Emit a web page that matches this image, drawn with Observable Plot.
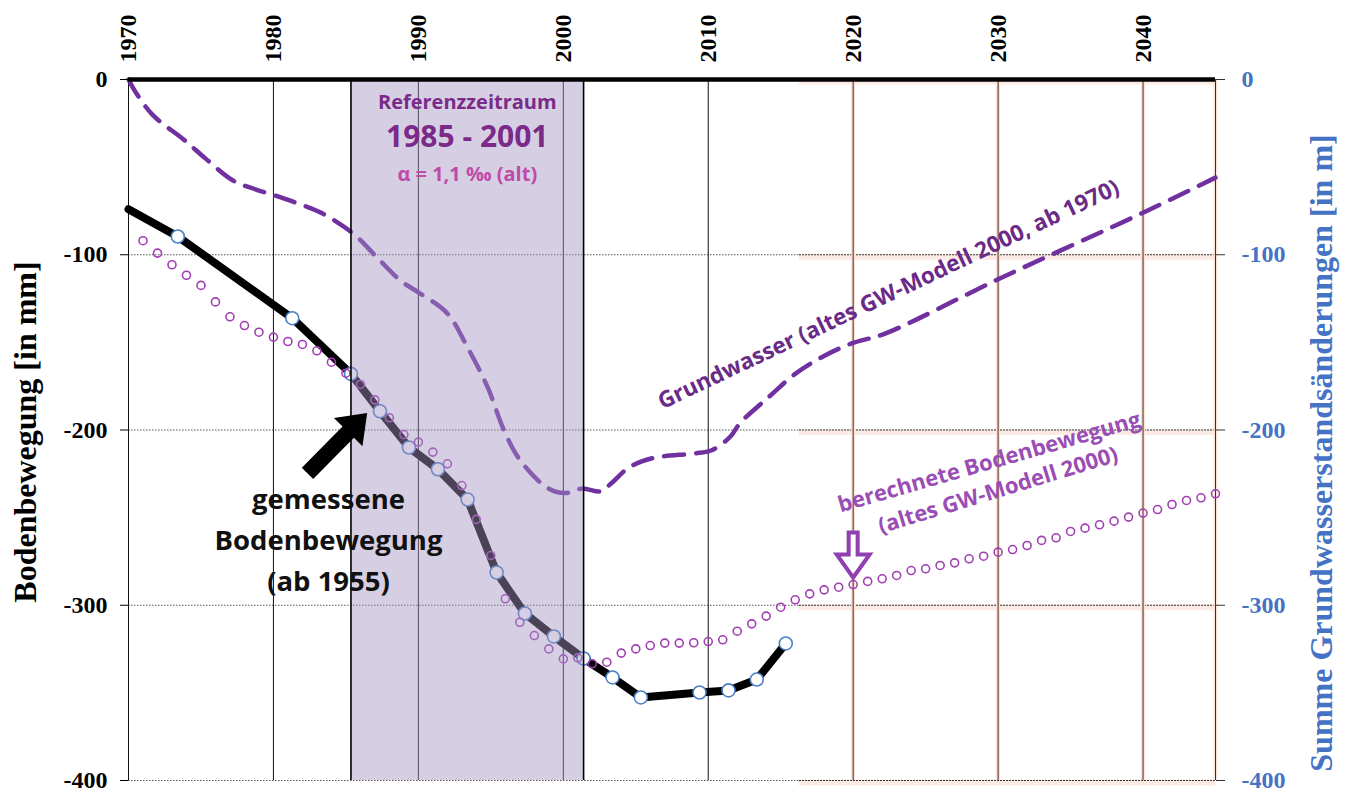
<!DOCTYPE html>
<html>
<head>
<meta charset="utf-8">
<script src="https://cdn.jsdelivr.net/npm/d3@7"></script>
<script src="https://cdn.jsdelivr.net/npm/@observablehq/plot@0.6"></script>
<style>
  body { margin: 0; background: #fff; }
  #chart { width: 1350px; height: 792px; }
</style>
</head>
<body>
<div id="chart"></div>
<script>
// Gemessene Bodenbewegung in mm (Messkampagnen; erster Wert = Linienverlauf am Rand 1970)
const measYears  = [1970, 1973.4, 1981.3, 1985.35, 1987.35, 1989.35, 1991.35, 1993.4, 1995.4, 1997.35, 1999.35, 2001.4, 2003.4, 2005.35, 2009.4, 2011.4, 2013.35, 2015.35];
const measValues = [-74, -89.6, -136.2, -168, -189.3, -210, -222.4, -239.7, -281.3, -304.7, -317.8, -330.4, -341.2, -352.6, -349.8, -348.6, -342.4, -321.8];

// Berechnete Bodenbewegung in mm (altes GW-Modell 2000), jährlich 1971–2045
const calcYears = d3.range(1971, 2046);
const calcValues = [
  -92.0, -99.1, -105.7, -111.7, -117.5, -126.9, -135.4, -140.4, -144.2, -147.0,
  -149.5, -151.2, -154.8, -161.3, -167.6, -174.0, -182.8, -193.0, -202.6, -206.9,
  -212.6, -219.3, -231.7, -251.0, -271.6, -296.3, -309.7, -317.3, -324.9, -330.6,
  -330.0, -333.4, -332.5, -327.3, -324.9, -323.0, -321.6, -321.6, -321.4, -320.7,
  -319.7, -314.8, -310.6, -306.2, -301.1, -296.9, -293.5, -291.2, -289.7, -288.2,
  -286.4, -284.9, -283.0, -280.2, -279.2, -277.3, -275.8, -273.5, -272.0, -269.7,
  -268.2, -265.9, -263.0, -261.5, -257.9, -256.0, -254.1, -252.0, -249.7, -247.4,
  -245.4, -242.5, -240.2, -238.7, -236.4
];

// Summe Grundwasserstandsänderungen in m (altes GW-Modell 2000, ab 1970)
const gwYears  = [1970, 1970.55, 1971.7, 1973.8, 1975.3, 1977.2, 1978.8, 1980.1, 1981.7, 1983.25, 1985.5, 1987.2, 1988.8, 1990.1, 1992.0, 1993.4, 1994.8, 1995.9, 1997.0, 1998.9, 2000.1, 2001.3, 2002.6, 2003.3, 2004.6, 2006.2, 2009.0, 2010.2, 2011.5, 2012.2, 2014.2, 2016.0, 2017.8, 2019.9, 2022.2, 2030, 2040, 2045];
const gwValues = [0, -8, -20.5, -34.2, -45, -57.6, -62.8, -66.2, -70.8, -75.9, -87.9, -102, -115, -122, -133.5, -153, -176, -200, -217, -233, -236, -233.4, -235, -230.5, -221, -216, -213.4, -211.7, -204, -196, -181, -168, -158.6, -150.6, -145, -114, -76, -56];

// Achsen
const yTicks = [0, -100, -200, -300, -400];
const decades = [1970, 1980, 1990, 2000, 2010, 2020, 2030, 2040];
const gridPast = [1980, 1990, 2000, 2010];
const gridFuture = [2020, 2030, 2040, 2045];

// Referenzzeitraum: von der Kampagne 1985 bis zur Kampagne 2001
const refStart = measYears[3];
const refEnd = measYears[11];
const refLabel = `${Math.floor(refStart)} - ${Math.floor(refEnd)}`;

const meas = measYears.map((x, i) => ({x, y: measValues[i]}));
const calc = calcYears.map((x, i) => ({x, y: calcValues[i]}));
const gw = gwYears.map((x, i) => ({x, y: gwValues[i]}));

const serif = "'Liberation Serif', 'Times New Roman', serif";
const sans = "'Open Sans', 'Noto Sans', sans-serif";
const splitYear = 2016.3; // Beginn der Prognosedarstellung

// Blockpfeil für Plot.vector (zeigt in Richtung -y)
function blockArrow(shaft, head, headLen) {
  return {
    draw(context, l) {
      const b = l - headLen;
      context.moveTo(-shaft, 0);
      context.lineTo(-shaft, -b);
      context.lineTo(-head, -b);
      context.lineTo(0, -l);
      context.lineTo(head, -b);
      context.lineTo(shaft, -b);
      context.lineTo(shaft, 0);
      context.closePath();
    }
  };
}

const yFmt = d => (d < 0 ? "-" + Math.abs(d) : String(d));

const chart = Plot.plot({
  width: 1350,
  height: 792,
  marginLeft: 128,
  marginRight: 135,
  marginTop: 79,
  marginBottom: 12,
  x: {domain: [1970, 2045], axis: null},
  y: {domain: [-400, 0], label: null},
  style: {fontFamily: sans, background: "#fff", overflow: "visible"},
  marks: [
    // horizontale Gitterlinien
    Plot.ruleY(yTicks, {x1: 1970, x2: splitYear, stroke: "#555", strokeDasharray: "1.5,1.5"}),
    Plot.ruleY(yTicks, {x1: splitYear, x2: 2045, stroke: "#fcebe4", strokeWidth: 6, dy: 2}),
    Plot.ruleY(yTicks, {x1: splitYear, x2: 2045, stroke: "#333", strokeDasharray: "2,1"}),
    // vertikale Gitterlinien
    Plot.ruleX(gridFuture, {stroke: "#fbe3d8", strokeWidth: 4}),
    Plot.ruleX(gridFuture, {stroke: "#4a2a22", strokeWidth: 1}),
    Plot.ruleX([1970, ...gridPast], {stroke: "#111", strokeWidth: 1}),

    // gemessene Bodenbewegung
    Plot.line(meas, {x: "x", y: "y", stroke: "#000", strokeWidth: 8, strokeLinejoin: "round", strokeLinecap: "round"}),
    Plot.dot(meas, {filter: (d, i) => i > 0, x: "x", y: "y", r: 6.5, fill: "#fff", stroke: "#4a7fc6", strokeWidth: 1.6}),

    // berechnete Bodenbewegung
    Plot.dot(calc, {x: "x", y: "y", r: 4, fill: "none", stroke: "#a13fb3", strokeWidth: 1.6}),

    // Grundwasser
    Plot.line(gw, {x: "x", y: "y", stroke: "#7030a0", strokeWidth: 4.5, strokeDasharray: "20,12", curve: "catmull-rom"}),

    // Referenzzeitraum
    Plot.rect([{x1: refStart, x2: refEnd}], {x1: "x1", x2: "x2", y1: -400, y2: 0, fill: "#a594c0", fillOpacity: 0.45}),
    Plot.ruleX([refStart, refEnd], {stroke: "#000", strokeWidth: 1.6}),

    // Nulllinie
    Plot.ruleY([0], {stroke: "#000", strokeWidth: 4.5}),

    // Achsen
    Plot.axisY({anchor: "left", ticks: yTicks, tickFormat: yFmt, tickSize: 8, tickPadding: 13, label: null,
      color: "#000", fontSize: 24, fontWeight: "bold", fontFamily: serif}),
    Plot.axisY({anchor: "right", ticks: yTicks, tickFormat: yFmt, tickSize: 9, tickPadding: 17, label: null,
      stroke: "#333", fill: "#4472c4", fontSize: 24, fontWeight: "bold", fontFamily: serif}),
    Plot.text(decades, {x: d => d, y: 0, dy: -17, text: d => String(d), rotate: -90, textAnchor: "start", lineAnchor: "middle",
      fontSize: 24, fontWeight: "bold", fontFamily: serif, fill: "#000"}),
    Plot.text(["Bodenbewegung [in mm]"], {text: d => d, frameAnchor: "left", dx: -103, dy: 2, rotate: -90,
      textAnchor: "middle", lineAnchor: "middle",
      fontSize: 32, fontWeight: "bold", fontFamily: serif, fill: "#000"}),
    Plot.text(["Summe Grundwasserstandsänderungen [in m]"], {text: d => d, frameAnchor: "right", dx: 106, dy: 23, rotate: -90,
      textAnchor: "middle", lineAnchor: "middle",
      fontSize: 32, fontWeight: "bold", fontFamily: serif, fill: "#4472c4"}),

    // Beschriftung Referenzzeitraum
    Plot.text(["Referenzzeitraum"], {text: d => d, x: (refStart + refEnd) / 2, y: -13, fontSize: 20, fontWeight: "bold", fill: "#7b2a8a"}),
    Plot.text([refLabel], {text: d => d, x: (refStart + refEnd) / 2, y: -33, fontSize: 30, fontWeight: "bold", fill: "#7b2a8a"}),
    Plot.text(["α = 1,1 ‰ (alt)"], {text: d => d, x: (refStart + refEnd) / 2, y: -54, fontSize: 20, fontWeight: "bold", fill: "#c04aa8"}),

    // Beschriftung gemessene Bodenbewegung
    Plot.text(["gemessene\nBodenbewegung\n(ab 1955)"], {text: d => d, x: 1983.8, y: -261, lineHeight: 1.5,
      fontSize: 27.5, fontWeight: "bold", fill: "#111"}),
    Plot.vector([{x: 1982.35, y: -224.8}], {x: "x", y: "y", length: 85, rotate: 44.6, anchor: "start",
      shape: blockArrow(8, 20, 27), fill: "#000", stroke: "none"}),

    // Beschriftung Grundwasser
    Plot.text(["Grundwasser (altes GW-Modell 2000, ab 1970)"], {text: d => d, x: 2022.45, y: -122.7, rotate: -25.3,
      fontSize: 22.5, fontWeight: "bold", fill: "#6a2a88"}),

    // Beschriftung berechnete Bodenbewegung
    Plot.text(["berechnete Bodenbewegung"], {text: d => d, x: 2029.4, y: -218.5, rotate: -16,
      fontSize: 22, fontWeight: "bold", fill: "#9a4db5"}),
    Plot.text(["(altes GW-Modell 2000)"], {text: d => d, x: 2030.0, y: -234.5, rotate: -17,
      fontSize: 22, fontWeight: "bold", fill: "#9a4db5"}),
    Plot.vector([{x: 2020.0, y: -258.5}], {x: "x", y: "y", length: 45, rotate: 180, anchor: "start",
      shape: blockArrow(4.5, 16.5, 23), fill: "#fff", stroke: "#9040b0", strokeWidth: 4, strokeLinejoin: "miter"})
  ]
});

document.getElementById("chart").appendChild(chart);
</script>
</body>
</html>
